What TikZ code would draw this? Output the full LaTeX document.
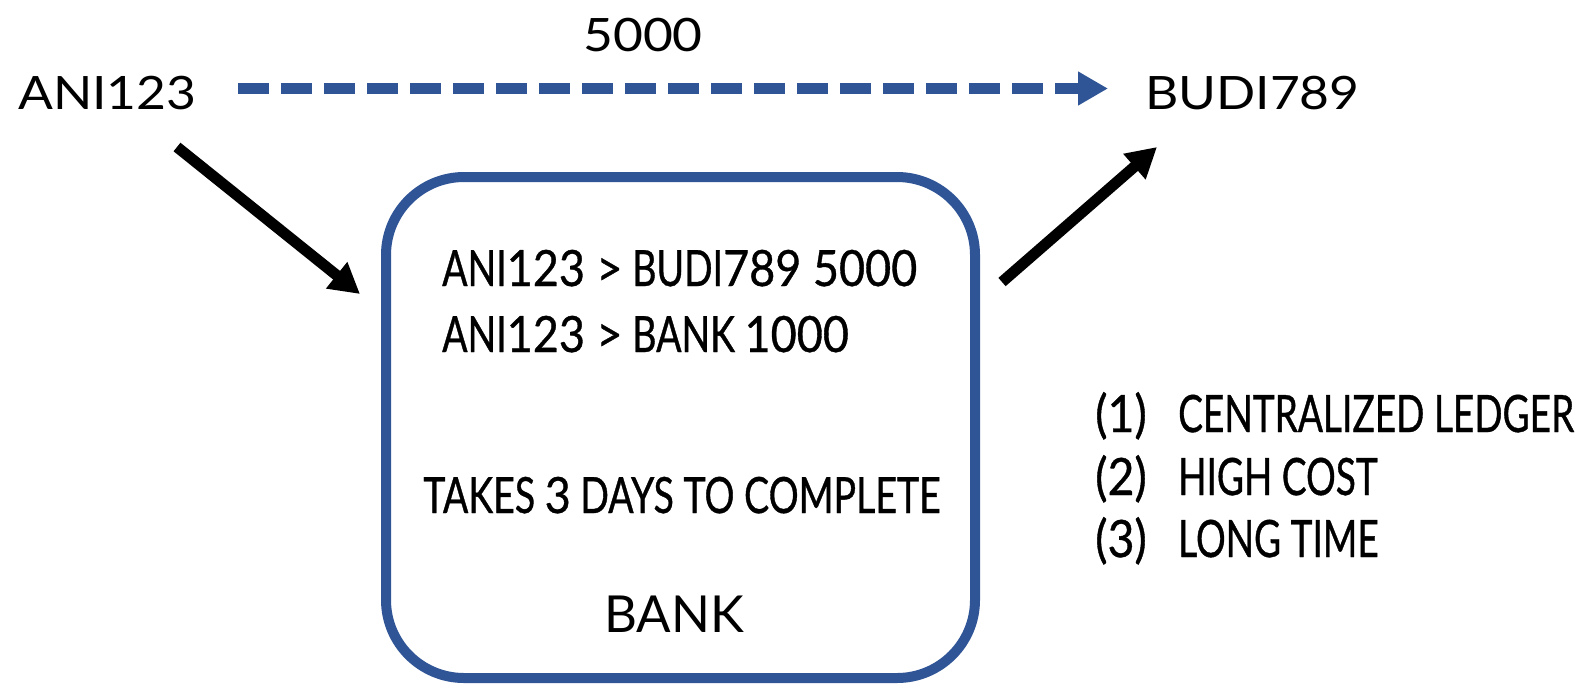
\documentclass[tikz,border=0pt]{standalone}
\usepackage{fontspec}
\setmainfont{Lato}
\newfontfamily\widefont[FakeStretch=1.12]{Lato}
\newfontfamily\condfont[FakeStretch=0.75,FakeBold=0.7]{Lato}
\newfontfamily\itemfont[FakeStretch=0.72,FakeBold=0.7]{Lato}
\newfontfamily\conddigitfont[FakeStretch=0.9,FakeBold=0.7]{Lato}
\newcommand\digs[1]{{\conddigitfont #1}}
\usetikzlibrary{arrows.meta}
\definecolor{ledgerblue}{HTML}{2F5597}

\begin{document}
\begin{tikzpicture}[x=1pt,y=-1pt,
  lbl/.style={inner sep=0pt, font=\widefont\fontsize{46}{50}\selectfont},
  cond/.style={inner sep=0pt, font=\condfont\fontsize{50}{56}\selectfont},
  item/.style={inner sep=0pt, anchor=base west, font=\itemfont\fontsize{51.5}{58}\selectfont},
  flow/.style={line width=11pt, -{Triangle[length=30pt,width=32pt]}},
  ledger/.style={draw=ledgerblue, line width=10pt, rounded corners=78pt,
    minimum width=589pt, minimum height=501pt, inner sep=0pt},
]
\useasboundingbox (0,0) rectangle (1589,689);

% parties and amount
\node[lbl, anchor=base west] (ani) at (18,109) {ANI123};
\node[lbl, anchor=base west] (budi) at (1145,109) {BUDI789};
\node[lbl, anchor=base] (amt) at (643,51) {5000};

% the bank and its ledger
\node[ledger] (bank) at (680.5,427.5) {};
\node[cond, anchor=base west] (tx1) at (442,286) {ANI\digs{123 >} BUDI\digs{789 5000}};
\node[cond, anchor=base west] (tx2) at (442,352) {ANI\digs{123 >} BANK \digs{1000}};
\node[cond, anchor=base] (days) at (682,513) {TAKES \digs{3} DAYS TO COMPLETE};
\node[inner sep=0pt, anchor=base, font=\fontsize{51}{56}\selectfont] (bankname) at (674,632) {BANK};

% drawbacks
\node[item] (n1) at (1095,432) {\digs{(1)}};
\node[item] (t1) at (1178,432) {CENTRALIZED LEDGER};
\node[item] (n2) at (1095,495) {\digs{(2)}};
\node[item] (t2) at (1178,495) {HIGH COST};
\node[item] (n3) at (1095,557) {\digs{(3)}};
\node[item] (t3) at (1178,557) {LONG TIME};

% arrow end points
\coordinate (payS) at (238,88.5);
\coordinate (payE) at (1108,88.5);
\coordinate (inS) at (177,147);
\coordinate (inE) at (360,294);
\coordinate (outS) at (1002,282);
\coordinate (outE) at (1157,147);

\draw[flow, ledgerblue, dash pattern=on 31pt off 12pt] (payS) -- (payE);
\draw[flow] (inS) -- (inE);
\draw[flow] (outS) -- (outE);
\end{tikzpicture}
\end{document}
